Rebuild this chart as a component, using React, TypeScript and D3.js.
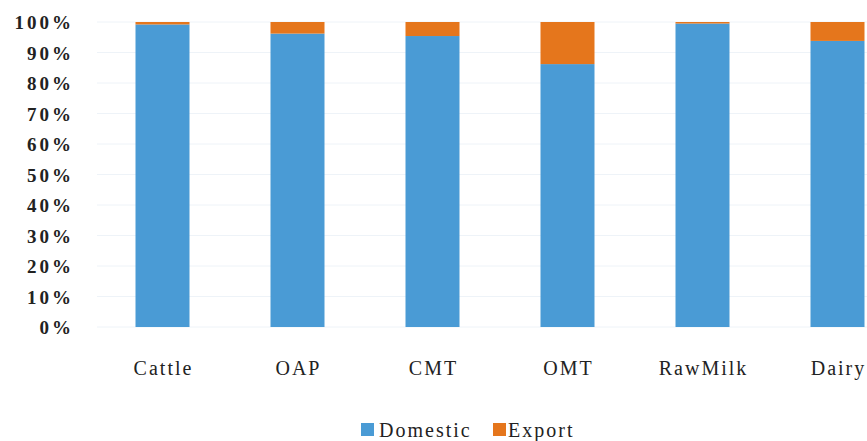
import * as d3 from "d3"
import * as React from "react"

const categories = ["Cattle", "OAP", "CMT", "OMT", "RawMilk", "Dairy"]
const domestic = [99.2, 96.2, 95.4, 86.2, 99.5, 93.8]
const exportShare = [0.8, 3.8, 4.6, 13.8, 0.5, 6.2]
const seriesNames = ["Domestic", "Export"]
const seriesColors = ["#4a9bd5", "#e5761c"]
const yTicks = [0, 10, 20, 30, 40, 50, 60, 70, 80, 90, 100]

const W = 867
const H = 441

export default function App() {
  const rows = categories.map((c, i) => ({ cat: c, Domestic: domestic[i], Export: exportShare[i] }))
  const stacked = d3.stack().keys(seriesNames)(rows)

  const x = d3.scaleBand().domain(categories).range([95, 905]).paddingInner(0.6).paddingOuter(0.3)
  const y = d3.scaleLinear().domain([0, 100]).range([327, 22])

  const serif = { fontFamily: "Liberation Serif, DejaVu Serif, serif" }

  return (
    <svg width={W} height={H} style={{ position: "absolute", left: 0, top: 0, background: "#fff" }}>
      <g>
        {yTicks.map(t => (
          <line key={t} x1={97} x2={W} y1={y(t)} y2={y(t)} stroke="#eef3f8" strokeWidth={1} />
        ))}
      </g>
      <g>
        {stacked.map((s, si) => (
          <g key={s.key} fill={seriesColors[si]}>
            {s.map((d, i) => (
              <rect
                key={i}
                x={x(categories[i])}
                width={x.bandwidth()}
                y={y(d[1])}
                height={y(d[0]) - y(d[1])}
              />
            ))}
          </g>
        ))}
      </g>
      <g style={serif} fill="#222">
        {yTicks.map(t => (
          <text
            key={t}
            x={74}
            y={y(t) + 3}
            textAnchor="end"
            dominantBaseline="middle"
            style={{ ...serif, fontSize: "19px", fontWeight: "bold", letterSpacing: "3px" }}
          >
            {t}%
          </text>
        ))}
        {categories.map(c => (
          <text
            key={c}
            x={x(c) + x.bandwidth() / 2 + 1}
            y={375}
            textAnchor="middle"
            style={{ ...serif, fontSize: "20px", letterSpacing: "2px" }}
          >
            {c}
          </text>
        ))}
      </g>
      <g fill="#222" style={{ ...serif, fontSize: "20px", letterSpacing: "2px" }}>
        <rect x={361} y={423} width={13} height={13} fill={seriesColors[0]} />
        <text x={379} y={437}>{seriesNames[0]}</text>
        <rect x={493} y={423} width={13} height={13} fill={seriesColors[1]} />
        <text x={508} y={437}>{seriesNames[1]}</text>
      </g>
    </svg>
  )
}
